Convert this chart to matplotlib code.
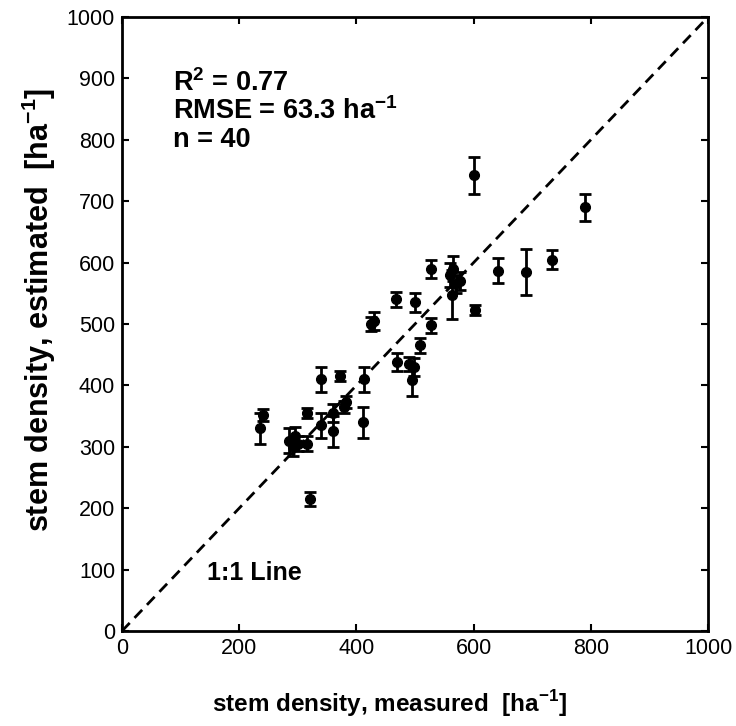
import matplotlib
matplotlib.use("Agg")
import matplotlib.pyplot as plt
import numpy as np

plt.rcParams['font.family'] = ['Liberation Sans', 'DejaVu Sans']
plt.rcParams['mathtext.fontset'] = 'custom'
plt.rcParams['mathtext.rm'] = 'Liberation Sans'
plt.rcParams['mathtext.bf'] = 'Liberation Sans:bold'

measured = [240, 235, 285, 292, 295, 300, 315, 315, 320, 340,
            340, 360, 360, 372, 378, 382, 413, 412, 425, 430,
            467, 470, 490, 495, 498, 500, 508, 527, 527, 560,
            563, 565, 570, 577, 602, 600, 642, 690, 734, 790]
estimated = [352, 330, 310, 300, 318, 305, 355, 305, 215, 335,
             410, 355, 325, 415, 365, 373, 410, 340, 500, 505,
             540, 438, 435, 408, 430, 535, 465, 590, 498, 580,
             548, 590, 565, 570, 523, 742, 587, 585, 605, 690]
errors = [10, 25, 20, 15, 15, 12, 8, 12, 12, 20,
          20, 15, 25, 8, 10, 10, 20, 25, 12, 15,
          12, 15, 12, 25, 15, 15, 12, 15, 12, 20,
          40, 20, 15, 15, 8, 30, 20, 37, 15, 22]

fig = plt.figure(figsize=(7.36, 7.26), dpi=100)
ax = fig.add_axes([0.1658, 0.1309, 0.7962, 0.8457])

ax.plot([0, 1000], [0, 1000], 'k--', lw=2, dashes=(4, 2.5))
ax.errorbar(measured, estimated, yerr=errors, fmt='o', color='black',
            ms=7, elinewidth=2, capsize=4, capthick=2)

ax.set_xlim(0, 1000)
ax.set_ylim(0, 1000)
ticks = [0, 200, 400, 600, 800, 1000]
yticks = [0, 100, 200, 300, 400, 500, 600, 700, 800, 900, 1000]
ax.set_xticks(ticks)
ax.set_yticks(yticks)
ax.tick_params(direction='in', top=True, right=True, labelsize=15.5,
               width=1.5, length=5, pad=5)
for s in ax.spines.values():
    s.set_linewidth(2)

ax.set_xlabel(r'stem density, measured  [ha$^{\mathbf{-1}}$]', fontsize=17.5,
              fontweight='bold')
ax.set_ylabel(r'stem density, estimated  [ha$^{\mathbf{-1}}$]', fontsize=22,
              fontweight='bold')
ax.xaxis.set_label_coords(0.457, -0.093)
ax.yaxis.set_label_coords(-0.11, 0.523)

ax.text(87, 893, r'R$^{\mathbf{2}}$ = 0.77', fontsize=19.5, fontweight='bold', va='center')
ax.text(87, 847, r'RMSE = 63.3 ha$^{\mathbf{-1}}$', fontsize=19.5, fontweight='bold', va='center')
ax.text(87, 800, 'n = 40', fontsize=19.5, fontweight='bold', va='center')
ax.text(145, 94, '1:1 Line', fontsize=18, fontweight='bold', va='center')

fig.savefig('out.png', dpi=100)
